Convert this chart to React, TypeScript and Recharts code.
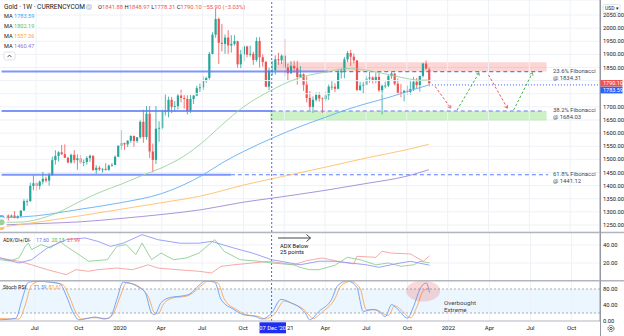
import React from "react";
import {
  ComposedChart,
  Bar,
  Line,
  XAxis,
  YAxis,
  ReferenceLine,
  ReferenceArea,
  ReferenceDot,
  CartesianGrid,
} from "recharts";

// ---------- DATA (weekly candles, week 0 = 15 Apr 2019) ----------
const N_WEEKS = 191;

const opens = [
  1291, 1275, 1286, 1281, 1286, 1277, 1284, 1305, 1341, 1341,
  1399, 1409, 1399, 1415, 1426, 1419, 1440, 1497, 1513, 1527,
  1520, 1506, 1488, 1517, 1497, 1504, 1488, 1490, 1505, 1514,
  1459, 1468, 1462, 1464, 1460, 1476, 1479, 1510, 1552, 1562,
  1557, 1571, 1589, 1570, 1584, 1643, 1585, 1674, 1530, 1498,
  1617, 1620, 1683, 1683, 1727, 1700, 1703, 1743, 1734, 1730,
  1684, 1730, 1743, 1771, 1774, 1799, 1810, 1902, 1975, 2035,
  1944, 1940, 1964, 1934, 1940, 1950, 1862, 1900, 1930, 1899,
  1902, 1879, 1951, 1889, 1871, 1777, 1839, 1839, 1881, 1877,
  1895, 1850, 1828, 1856, 1847, 1814, 1824, 1784, 1734, 1700,
  1727, 1745, 1732, 1729, 1744, 1777, 1777, 1769, 1831, 1838,
  1881, 1905, 1891, 1877, 1764, 1781, 1784, 1808, 1812, 1802,
  1814, 1763, 1780, 1781, 1817, 1827, 1788, 1754, 1750, 1761,
  1757, 1768, 1796, 1783, 1818, 1865, 1841.88,
];
const highs = [
  1293, 1288, 1290, 1290, 1303, 1287, 1306, 1348, 1348, 1411,
  1439, 1415, 1420, 1453, 1434, 1449, 1510, 1535, 1531, 1555,
  1557, 1510, 1522, 1535, 1519, 1517, 1499, 1512, 1518, 1514,
  1478, 1475, 1466, 1485, 1480, 1486, 1515, 1553, 1611, 1564,
  1573, 1592, 1591, 1585, 1649, 1689, 1703, 1703, 1560, 1703,
  1645, 1690, 1747, 1739, 1738, 1722, 1749, 1765, 1745, 1744,
  1745, 1745, 1780, 1789, 1818, 1815, 1909, 1984, 2075, 2040,
  2016, 1976, 1992, 1973, 1973, 1952, 1917, 1933, 1933, 1933,
  1910, 1965, 1966, 1900, 1876, 1849, 1875, 1896, 1906, 1900,
  1959, 1864, 1875, 1876, 1875, 1855, 1828, 1816, 1760, 1740,
  1755, 1756, 1736, 1758, 1785, 1798, 1790, 1843, 1845, 1890,
  1913, 1917, 1903, 1878, 1795, 1795, 1818, 1834, 1816, 1832,
  1832, 1785, 1796, 1823, 1834, 1828, 1808, 1787, 1765, 1781,
  1800, 1814, 1810, 1818, 1868, 1877, 1848.97,
];
const lows = [
  1270, 1266, 1267, 1279, 1275, 1273, 1279, 1305, 1323, 1339,
  1382, 1381, 1385, 1404, 1412, 1400, 1438, 1480, 1492, 1517,
  1506, 1485, 1484, 1485, 1460, 1483, 1474, 1480, 1490, 1457,
  1445, 1456, 1450, 1457, 1456, 1472, 1478, 1509, 1536, 1536,
  1547, 1563, 1548, 1563, 1579, 1563, 1575, 1505, 1451, 1482,
  1567, 1614, 1667, 1660, 1676, 1681, 1690, 1717, 1693, 1671,
  1677, 1711, 1741, 1757, 1764, 1791, 1804, 1900, 1963, 1863,
  1911, 1902, 1902, 1907, 1933, 1849, 1848, 1873, 1889, 1891,
  1860, 1872, 1850, 1853, 1775, 1764, 1820, 1823, 1860, 1863,
  1817, 1802, 1826, 1830, 1785, 1810, 1761, 1717, 1687, 1677,
  1720, 1720, 1677, 1721, 1726, 1764, 1756, 1767, 1808, 1809,
  1870, 1856, 1866, 1761, 1761, 1750, 1784, 1792, 1789, 1790,
  1757, 1672, 1770, 1775, 1807, 1782, 1745, 1737, 1721, 1746,
  1746, 1760, 1770, 1758, 1812, 1842, 1778.31,
];
const closes = [
  1275, 1286, 1281, 1286, 1277, 1284, 1305, 1341, 1341, 1399,
  1409, 1399, 1415, 1426, 1419, 1440, 1497, 1513, 1527, 1520,
  1506, 1488, 1517, 1497, 1504, 1488, 1490, 1505, 1514, 1459,
  1468, 1462, 1464, 1460, 1476, 1479, 1510, 1552, 1562, 1557,
  1571, 1589, 1570, 1584, 1643, 1585, 1674, 1530, 1498, 1617,
  1620, 1683, 1683, 1727, 1700, 1703, 1743, 1734, 1730, 1684,
  1730, 1743, 1771, 1774, 1799, 1810, 1902, 1975, 2035, 1944,
  1940, 1964, 1934, 1940, 1950, 1862, 1900, 1930, 1899, 1902,
  1879, 1951, 1889, 1871, 1777, 1839, 1839, 1881, 1877, 1895,
  1850, 1828, 1856, 1847, 1814, 1824, 1784, 1734, 1700, 1727,
  1745, 1732, 1729, 1744, 1777, 1777, 1769, 1831, 1838, 1881,
  1905, 1891, 1877, 1764, 1781, 1784, 1808, 1812, 1802, 1814,
  1763, 1780, 1781, 1817, 1827, 1788, 1754, 1750, 1761, 1757,
  1768, 1796, 1783, 1818, 1865, 1846, 1790.1,
];

// moving averages read at sample weeks: [week, value]
const maBlue: [number, number][] = [
  [0, 1277], [11, 1285], [25, 1310], [38, 1335], [51, 1370], [64, 1440],
  [70, 1485], [77, 1530], [86, 1580], [95, 1625], [103, 1660], [110, 1690],
  [116, 1712], [123, 1735], [129, 1758], [136, 1783.59],
];
const maGreen: [number, number][] = [
  [0, 1260], [6, 1261], [11, 1270], [18, 1298], [25, 1340], [32, 1378],
  [38, 1405], [45, 1440], [51, 1468], [58, 1512], [64, 1565], [70, 1630],
  [77, 1700], [82, 1738], [86, 1764], [90, 1788], [96, 1815], [103, 1832],
  [110, 1846], [116, 1840], [122, 1826], [129, 1808], [133, 1802], [136, 1802.19],
];
const maOrange: [number, number][] = [
  [0, 1242], [11, 1260], [25, 1285], [38, 1310], [51, 1335], [64, 1362],
  [77, 1402], [86, 1426], [103, 1470], [116, 1505], [129, 1537], [136, 1557.36],
];
const maPurple: [number, number][] = [
  [0, 1250], [11, 1255], [25, 1262], [38, 1275], [51, 1290], [64, 1309],
  [77, 1337], [86, 1352], [103, 1382], [116, 1408], [129, 1436], [136, 1460.47],
];

// ADX / DI+ / DI-
const adxLine: [number, number][] = [
  [0, 25.6], [6, 20], [10, 23.7], [15, 36.7], [21, 45.9], [27, 47.8], [31, 44],
  [35, 38.5], [39, 42], [45, 51.5], [50, 45.9], [57, 42], [63, 42], [67, 44],
  [74, 36.7], [80, 31], [86, 23.7], [95, 18], [101, 22], [106, 21.9], [111, 20],
  [116, 18], [120, 15.2], [125, 18.9], [130, 21.9], [136, 17.6],
];
const diPlus: [number, number][] = [
  [0, 23.7], [3, 22.2], [6, 25.6], [8, 38.5], [9, 42.2], [10, 34.8], [13, 40.4],
  [16, 36.7], [19, 44], [21, 38.5], [25, 29.3], [28, 21.9], [34, 23.7], [37, 38.5],
  [40, 40.4], [43, 29.3], [45, 42.2], [48, 23.7], [51, 31], [55, 23.7], [59, 25.6],
  [63, 31], [68, 45.9], [71, 33], [76, 23.7], [82, 21.9], [86, 20], [93, 18],
  [95, 15.2], [98, 12.6], [101, 12.6], [106, 17.4], [110, 26.3], [114, 23.7],
  [119, 18], [123, 20], [127, 16.3], [131, 18], [133, 21.9], [136, 20.13],
];
const diMinus: [number, number][] = [
  [0, 25.6], [6, 21.9], [10, 18], [15, 12.6], [21, 7], [24, 12.6], [28, 10.8],
  [31, 12.6], [37, 14.4], [42, 12.6], [47, 18], [50, 14.4], [56, 12.6], [63, 10.8],
  [67, 8.9], [70, 16.3], [74, 18], [80, 20], [85, 21.9], [89, 20], [93, 18],
  [97, 22.6], [99, 23.7], [102, 25.6], [106, 22.6], [112, 18.9], [113, 27.4],
  [119, 26.3], [121, 33], [124, 31], [130, 30], [134, 21.9], [136, 27.99],
];

// Stoch RSI
const stochK: [number, number][] = [
  [0, 3], [5, 7], [7, 54], [9, 97], [12, 99], [16, 97], [19, 93], [21, 63], [23, 24],
  [25, 3], [28, 7], [30, 10], [33, 5], [35, 11], [37, 54], [39, 97], [41, 95], [44, 84],
  [46, 71], [48, 20], [49, 16], [51, 46], [54, 59], [58, 63], [60, 67], [63, 89],
  [65, 100], [68, 97], [70, 54], [74, 29], [77, 16], [81, 11], [83, 5], [86, 20],
  [89, 54], [92, 46], [95, 33], [97, 16], [98, 3], [101, 24], [105, 54], [107, 89],
  [110, 100], [113, 84], [115, 24], [118, 29], [120, 24], [122, 11], [124, 41],
  [126, 29], [129, 7], [131, 37], [133, 80], [135, 95], [136, 71.39],
];
const stochD: [number, number][] = [
  [0, 6], [6, 5], [8, 40], [10, 90], [13, 100], [17, 96], [20, 90], [22, 60], [24, 22],
  [26, 5], [29, 8], [31, 8], [34, 6], [36, 20], [38, 60], [40, 95], [42, 93], [45, 80],
  [47, 60], [49, 20], [50, 18], [52, 45], [55, 58], [59, 62], [61, 70], [64, 90],
  [66, 100], [69, 95], [71, 55], [75, 28], [78, 16], [82, 11], [84, 5], [87, 18],
  [90, 50], [93, 42], [96, 30], [98, 14], [99, 6], [102, 22], [106, 55], [108, 88],
  [111, 99], [114, 82], [116, 28], [119, 28], [121, 20], [123, 14], [125, 38],
  [127, 28], [130, 8], [132, 35], [134, 75], [136, 81.61],
];

// price labels shown on the axis (1750/1800 sit under the price badges)
const priceTicks = [1250, 1300, 1350, 1400, 1450, 1500, 1550, 1600, 1650, 1700, 1850, 1900, 1950, 2000, 2050];
const hiddenPriceGrid = [1750, 1800];
const timeTickIdx = [11, 25, 38, 51, 64, 77, 90, 103, 116, 129, 142, 155, 168, 181];
const timeTickLabels = ["Jul", "Oct", "2020", "Apr", "Jul", "Oct", "", "Apr", "Jul", "Oct", "2022", "Apr", "Jul", "Oct"];

const fib236 = 1834.31;
const fib382 = 1684.03;
const fib618 = 1441.12;
const resistanceTop = 1870;
const supportBottom = 1648;
const lastMA = 1783.59;
const markWeek = 86; // 07 Dec '20
const projRed: [number, number, number, number][] = [
  [138, 1778, 143, 1695],
  [155, 1822, 161, 1695],
];
const projGreen: [number, number, number, number][] = [
  [145, 1688, 152, 1830],
  [163, 1688, 169, 1830],
];

// ---------- build table ----------
const rows: any[] = Array.from({ length: N_WEEKS }, (_, i) => {
  const r: any = { i };
  if (i < closes.length) {
    r.o = opens[i];
    r.h = highs[i];
    r.l = lows[i];
    r.c = closes[i];
  }
  return r;
});
const put = (arr: [number, number][], key: string) => arr.forEach(([i, v]) => (rows[i][key] = v));
put(maBlue, "mb");
put(maGreen, "mg");
put(maOrange, "mo");
put(maPurple, "mp");
put(adxLine, "adx");
put(diPlus, "dip");
put(diMinus, "dim");
put(stochK, "k");
put(stochD, "d");

// ---------- styles ----------
const UP = "#26a69a";
const DOWN = "#ef5350";
const C_BLUE = "#62b0f4";
const C_GREEN = "#9ad29c";
const C_ORANGE = "#ffbf66";
const C_PURPLE = "#a088d8";
const C_FIB = "#5c7cfa";
const C_ADX = "#9397f5";
const C_DIP = "#8fcf92";
const C_DIM = "#f5a0a0";
const C_K = "#6b9cf4";
const C_D = "#f9a55a";
const GRID = "#eef1f6";
const TXT = "#131722";
const FONT = "Roboto, 'Liberation Sans', sans-serif";

const Candle = (props: any) => {
  const { x, y, width, height, payload } = props;
  if (!payload || payload.h == null) return null;
  const top = Math.min(y, y + height);
  const hh = Math.abs(height);
  const hi = payload.h;
  const lo = payload.l;
  const px = (v: number) => top + ((hi - v) / (hi - lo || 1)) * hh;
  const up = payload.c >= payload.o;
  const col = up ? UP : DOWN;
  const cx = x + width / 2;
  const bt = px(Math.max(payload.o, payload.c));
  const bb = px(Math.min(payload.o, payload.c));
  return (
    <g>
      <line x1={cx} x2={cx} y1={top} y2={top + hh} stroke={col} strokeWidth={0.8} />
      <rect x={cx - 1.1} y={bt} width={2.2} height={Math.max(0.8, bb - bt)} fill={col} />
    </g>
  );
};

const arrowHead = (angDeg: number, col: string) => (p: any) => {
  const { cx, cy } = p;
  if (cx == null || cy == null) return null;
  const a = (angDeg * Math.PI) / 180;
  const L = 3.2;
  const b1 = a + Math.PI - 0.6;
  const b2 = a + Math.PI + 0.6;
  return (
    <path
      d={`M${cx + L * Math.cos(b1)},${cy + L * Math.sin(b1)} L${cx},${cy} L${cx + L * Math.cos(b2)},${cy + L * Math.sin(b2)}`}
      stroke={col}
      strokeWidth={0.8}
      fill="none"
    />
  );
};

const Ellipse = (p: any) => {
  const { cx, cy } = p;
  if (cx == null) return null;
  return <ellipse cx={cx} cy={cy} rx={17} ry={10.5} fill="#ef5350" fillOpacity={0.22} />;
};

const TimeTick = (props: any) => {
  const { x, y, payload } = props;
  const idx = timeTickIdx.indexOf(payload.value);
  const label = timeTickLabels[idx];
  if (!label) return null;
  return (
    <text x={x} y={y + 9} textAnchor="middle" fontSize={6} fill={TXT} fontFamily={FONT}>
      {label}
    </text>
  );
};

const vGrid = timeTickIdx.map((t) => <ReferenceLine key={"vg" + t} x={t} stroke={GRID} strokeWidth={1} />);

export default function App() {
  const W = 624;
  return (
    <div style={{ position: "absolute", left: 0, top: 0, width: W, height: 336, background: "#fff", fontFamily: FONT, overflow: "hidden" }}>
      {/* ---------- main price panel ---------- */}
      <div style={{ position: "absolute", left: 0, top: 0 }}>
        <ComposedChart width={W} height={232} data={rows} margin={{ top: 0, right: 0, bottom: 0, left: 0 }}>
          <CartesianGrid vertical={false} stroke={GRID} />
          <XAxis dataKey="i" type="category" hide />
          <YAxis
            orientation="right"
            width={24}
            domain={[1223.3, 2107.1]}
            allowDataOverflow
            ticks={priceTicks}
            interval={0}
            tickLine={false}
            tickSize={2}
            tickMargin={1}
            axisLine={{ stroke: "#9598a1" }}
            tick={{ fontSize: 5.8, fill: TXT }}
            tickFormatter={(v: number) => v.toFixed(2)}
          />
          {vGrid}
          {hiddenPriceGrid.map((p) => (
            <ReferenceLine key={"hg" + p} y={p} stroke={GRID} strokeWidth={1} />
          ))}
          <ReferenceArea x1={88} x2={173} y1={fib236} y2={resistanceTop} fill="#ef5350" fillOpacity={0.24} stroke="none" />
          <ReferenceArea x1={86} x2={173} y1={supportBottom} y2={fib382} fill="#8fe083" fillOpacity={0.45} stroke="none" />
          <ReferenceLine segment={[{ x: 0, y: fib236 }, { x: 104, y: fib236 }]} stroke={C_FIB} strokeOpacity={0.8} strokeWidth={2} />
          <ReferenceLine segment={[{ x: 104, y: fib236 }, { x: 173, y: fib236 }]} stroke={C_FIB} strokeWidth={1.1} strokeDasharray="4 3" />
          <ReferenceLine segment={[{ x: 0, y: fib382 }, { x: markWeek, y: fib382 }]} stroke={C_FIB} strokeOpacity={0.8} strokeWidth={2} />
          <ReferenceLine segment={[{ x: markWeek, y: fib382 }, { x: 173, y: fib382 }]} stroke={C_FIB} strokeWidth={1.1} strokeDasharray="4 3" />
          <ReferenceLine segment={[{ x: 0, y: fib618 }, { x: 73, y: fib618 }]} stroke={C_FIB} strokeOpacity={0.8} strokeWidth={2} />
          <ReferenceLine segment={[{ x: 73, y: fib618 }, { x: 174, y: fib618 }]} stroke={C_FIB} strokeWidth={1.1} strokeDasharray="4 3" />
          <ReferenceLine x={markWeek} stroke="#5a5cf0" strokeDasharray="2 2" strokeWidth={1} />
          <ReferenceLine segment={[{ x: 137, y: lastMA }, { x: 190, y: lastMA }]} stroke="#3d5afe" strokeDasharray="1 2" strokeWidth={1} />
          <Line dataKey="mp" stroke={C_PURPLE} dot={false} strokeWidth={0.9} connectNulls type="monotone" isAnimationActive={false} />
          <Line dataKey="mo" stroke={C_ORANGE} dot={false} strokeWidth={0.9} connectNulls type="monotone" isAnimationActive={false} />
          <Line dataKey="mb" stroke={C_BLUE} dot={false} strokeWidth={0.9} connectNulls type="monotone" isAnimationActive={false} />
          <Line dataKey="mg" stroke={C_GREEN} dot={false} strokeWidth={0.9} connectNulls type="monotone" isAnimationActive={false} />
          <Bar
            dataKey={(d: any) => (d.h == null ? null : [d.l, d.h])}
            barSize={2}
            shape={Candle}
            isAnimationActive={false}
          />
          {projRed.map(([x1, y1, x2, y2], k) => (
            <ReferenceLine key={"pr" + k} segment={[{ x: x1, y: y1 }, { x: x2, y: y2 }]} stroke="#ef5350" strokeDasharray="2.5 2" strokeWidth={1} />
          ))}
          {projGreen.map(([x1, y1, x2, y2], k) => (
            <ReferenceLine key={"pg" + k} segment={[{ x: x1, y: y1 }, { x: x2, y: y2 }]} stroke="#4caf50" strokeDasharray="2.5 2" strokeWidth={1} />
          ))}
          {projRed.map(([, , x2, y2], k) => (
            <ReferenceDot key={"hr" + k} x={x2} y={y2} shape={arrowHead(k === 0 ? 54 : 60, "#ef5350")} />
          ))}
          {projGreen.map(([, , x2, y2], k) => (
            <ReferenceDot key={"hgr" + k} x={x2} y={y2} shape={arrowHead(k === 0 ? -59 : -63, "#4caf50")} />
          ))}
        </ComposedChart>
      </div>

      {/* ---------- ADX panel ---------- */}
      <div style={{ position: "absolute", left: 0, top: 232 }}>
        <ComposedChart width={W} height={49} data={rows} margin={{ top: 0, right: 0, bottom: 0, left: 0 }}>
          <CartesianGrid vertical={false} stroke={GRID} />
          <XAxis dataKey="i" type="category" hide />
          <YAxis
            orientation="right"
            width={24}
            domain={[0, 54.44]}
            allowDataOverflow
            ticks={[20, 40]}
            interval={0}
            tickLine={false}
            tickSize={2}
            tickMargin={1}
            axisLine={{ stroke: "#9598a1" }}
            tick={{ fontSize: 5.8, fill: TXT }}
            tickFormatter={(v: number) => v.toFixed(2)}
          />
          {vGrid}
          <ReferenceLine x={markWeek} stroke="#5a5cf0" strokeDasharray="2 2" strokeWidth={1} />
          <Line dataKey="dim" stroke={C_DIM} dot={false} strokeWidth={0.9} connectNulls type="linear" isAnimationActive={false} />
          <Line dataKey="dip" stroke={C_DIP} dot={false} strokeWidth={0.9} connectNulls type="linear" isAnimationActive={false} />
          <Line dataKey="adx" stroke={C_ADX} dot={false} strokeWidth={0.9} connectNulls type="linear" isAnimationActive={false} />
        </ComposedChart>
      </div>

      {/* ---------- Stoch RSI panel + time axis ---------- */}
      <div style={{ position: "absolute", left: 0, top: 281 }}>
        <ComposedChart width={W} height={55} data={rows} margin={{ top: 0, right: 0, bottom: 0, left: 0 }}>
          <XAxis
            dataKey="i"
            type="category"
            height={15}
            ticks={timeTickIdx}
            interval={0}
            tickLine={false}
            tickSize={0}
            tickMargin={0}
            axisLine={{ stroke: "#b2b5be" }}
            tick={TimeTick}
          />
          <YAxis
            orientation="right"
            width={24}
            domain={[0, 100]}
            allowDataOverflow
            ticks={[0, 40, 80]}
            interval={0}
            tickLine={false}
            tickSize={2}
            tickMargin={1}
            axisLine={{ stroke: "#9598a1" }}
            tick={{ fontSize: 5.8, fill: TXT }}
            tickFormatter={(v: number) => v.toFixed(2)}
          />
          {vGrid}
          <ReferenceArea x1={0} x2={190} y1={20} y2={80} fill="#2196f3" fillOpacity={0.09} stroke="none" />
          <ReferenceLine y={80} stroke="#9598a1" strokeDasharray="2 2" strokeWidth={0.8} />
          <ReferenceLine y={20} stroke="#9598a1" strokeDasharray="2 2" strokeWidth={0.8} />
          <ReferenceLine x={markWeek} stroke="#5a5cf0" strokeDasharray="2 2" strokeWidth={1} />
          <ReferenceDot x={134} y={75} shape={Ellipse} />
          <Line dataKey="d" stroke={C_D} dot={false} strokeWidth={0.9} connectNulls type="monotone" isAnimationActive={false} />
          <Line dataKey="k" stroke={C_K} dot={false} strokeWidth={0.9} connectNulls type="monotone" isAnimationActive={false} />
        </ComposedChart>
      </div>

      {/* ---------- annotations ---------- */}
      <svg width={W} height={336} style={{ position: "absolute", left: 0, top: 0, pointerEvents: "none" }} fontFamily={FONT}>
        {/* panel separators and axis line */}
        <line x1={0} x2={W} y1={232.5} y2={232.5} stroke="#b2b5be" strokeWidth={1.5} />
        <line x1={0} x2={W} y1={280.8} y2={280.8} stroke="#b2b5be" strokeWidth={1.5} />
        <line x1={600.5} x2={600.5} y1={0} y2={336} stroke="#9598a1" strokeWidth={1} />

        {/* legend */}
        <text x={4} y={9.3} fontSize={6.6} fill={TXT}>Gold · 1W · CURRENCYCOM</text>
        <circle cx={89} cy={7} r={3} fill="#d1d4dc" />
        <line x1={87.3} x2={90.7} y1={7} y2={7} stroke="#fff" strokeWidth={0.8} />
        <text x={98} y={9.2} fontSize={5.8} fill={TXT}>
          O<tspan fill={DOWN}>1841.88 </tspan>H<tspan fill={DOWN}>1848.97 </tspan>L<tspan fill={DOWN}>1778.31 </tspan>C
          <tspan fill={DOWN}>1790.10 −55.90 (−3.03%)</tspan>
        </text>
        {[
          ["1783.59", "#42a5f5"],
          ["1802.19", "#66bb6a"],
          ["1557.36", "#ffa726"],
          ["1460.47", "#9575cd"],
        ].map(([v, c], k) => (
          <g key={"ml" + k}>
            <text x={4} y={17.8 + k * 10} fontSize={5.6} fill={TXT}>MA</text>
            <text x={14} y={17.8 + k * 10} fontSize={5.6} fill={c}>{v}</text>
          </g>
        ))}
        <rect x={4} y={52} width={11} height={8} rx={1.5} fill="#fff" stroke="#d1d4dc" strokeWidth={0.7} />
        <path d="M7.5,57.2 L9.5,55 L11.5,57.2" stroke={TXT} strokeWidth={0.7} fill="none" />

        {/* currency button */}
        <rect x={603} y={4.5} width={17} height={8} rx={1.5} fill="#fff" stroke="#d1d4dc" strokeWidth={0.6} />
        <text x={605} y={10.3} fontSize={5} fill={TXT}>USD ▾</text>

        {/* price badges */}
        <rect x={600.5} y={80} width={22} height={6.6} fill="#ef5350" />
        <text x={603} y={85.2} fontSize={5.5} fill="#fff">1790.10</text>
        <rect x={600.5} y={86.8} width={22} height={6.6} fill="#2962ff" />
        <text x={603} y={92} fontSize={5.5} fill="#fff">1783.59</text>

        {/* fibonacci labels */}
        <text x={553} y={73.2} fontSize={5.9} fill="#434651">23.6% Fibonacci</text>
        <text x={553} y={79.6} fontSize={5.9} fill="#434651">@ 1834.31</text>
        <text x={553} y={112.2} fontSize={5.9} fill="#434651">38.2% Fibonacci</text>
        <text x={553} y={118.6} fontSize={5.9} fill="#434651">@ 1684.03</text>
        <text x={553} y={176.2} fontSize={5.9} fill="#434651">61.8% Fibonacci</text>
        <text x={553} y={182.6} fontSize={5.9} fill="#434651">@ 1441.12</text>

        {/* ADX legend + note */}
        <text x={3} y={242.3} fontSize={5.1} fill={TXT}>ADX/DI+/DI-</text>
        <text x={36} y={242.3} fontSize={5.2} fill="#6b6ff0">17.60</text>
        <text x={51.5} y={242.3} fontSize={5.2} fill="#4caf50">20.13</text>
        <text x={67} y={242.3} fontSize={5.2} fill={DOWN}>27.99</text>
        <line x1={278} x2={310.5} y1={238} y2={238} stroke={TXT} strokeWidth={0.8} />
        <path d="M306.5,234.5 L310.5,238 L306.5,241.5" stroke={TXT} strokeWidth={0.8} fill="none" />
        <text x={280} y={248.2} fontSize={5.8} fill={TXT}>ADX Below</text>
        <text x={280} y={254.4} fontSize={5.8} fill={TXT}>25 points</text>

        {/* Stoch legend + note */}
        <text x={3} y={289} fontSize={5.4} fill={TXT}>Stoch RSI</text>
        <text x={33.5} y={289} fontSize={5.2} fill="#4f86f0">71.39</text>
        <text x={48.5} y={289} fontSize={5.2} fill="#f59a45">81.61</text>
        <text x={444} y={305} fontSize={6.2} fill="#434651">Overbought</text>
        <text x={444} y={312} fontSize={6.2} fill="#434651">Extreme</text>

        {/* highlighted date, with the tail of the hidden 2021 label */}
        <rect x={259.5} y={322.3} width={26.5} height={11} fill="#1f2ff0" />
        <text x={272.7} y={330} fontSize={5.8} fill="#fff" textAnchor="middle">07 Dec '20</text>
        <text x={287} y={330} fontSize={6} fill={TXT}>21</text>

        {/* settings gear */}
        <circle cx={611} cy={328.5} r={3} fill="none" stroke={TXT} strokeWidth={0.8} strokeDasharray="1.2 0.7" />
        <circle cx={611} cy={328.5} r={1.2} fill="none" stroke={TXT} strokeWidth={0.7} />
      </svg>
    </div>
  );
}
